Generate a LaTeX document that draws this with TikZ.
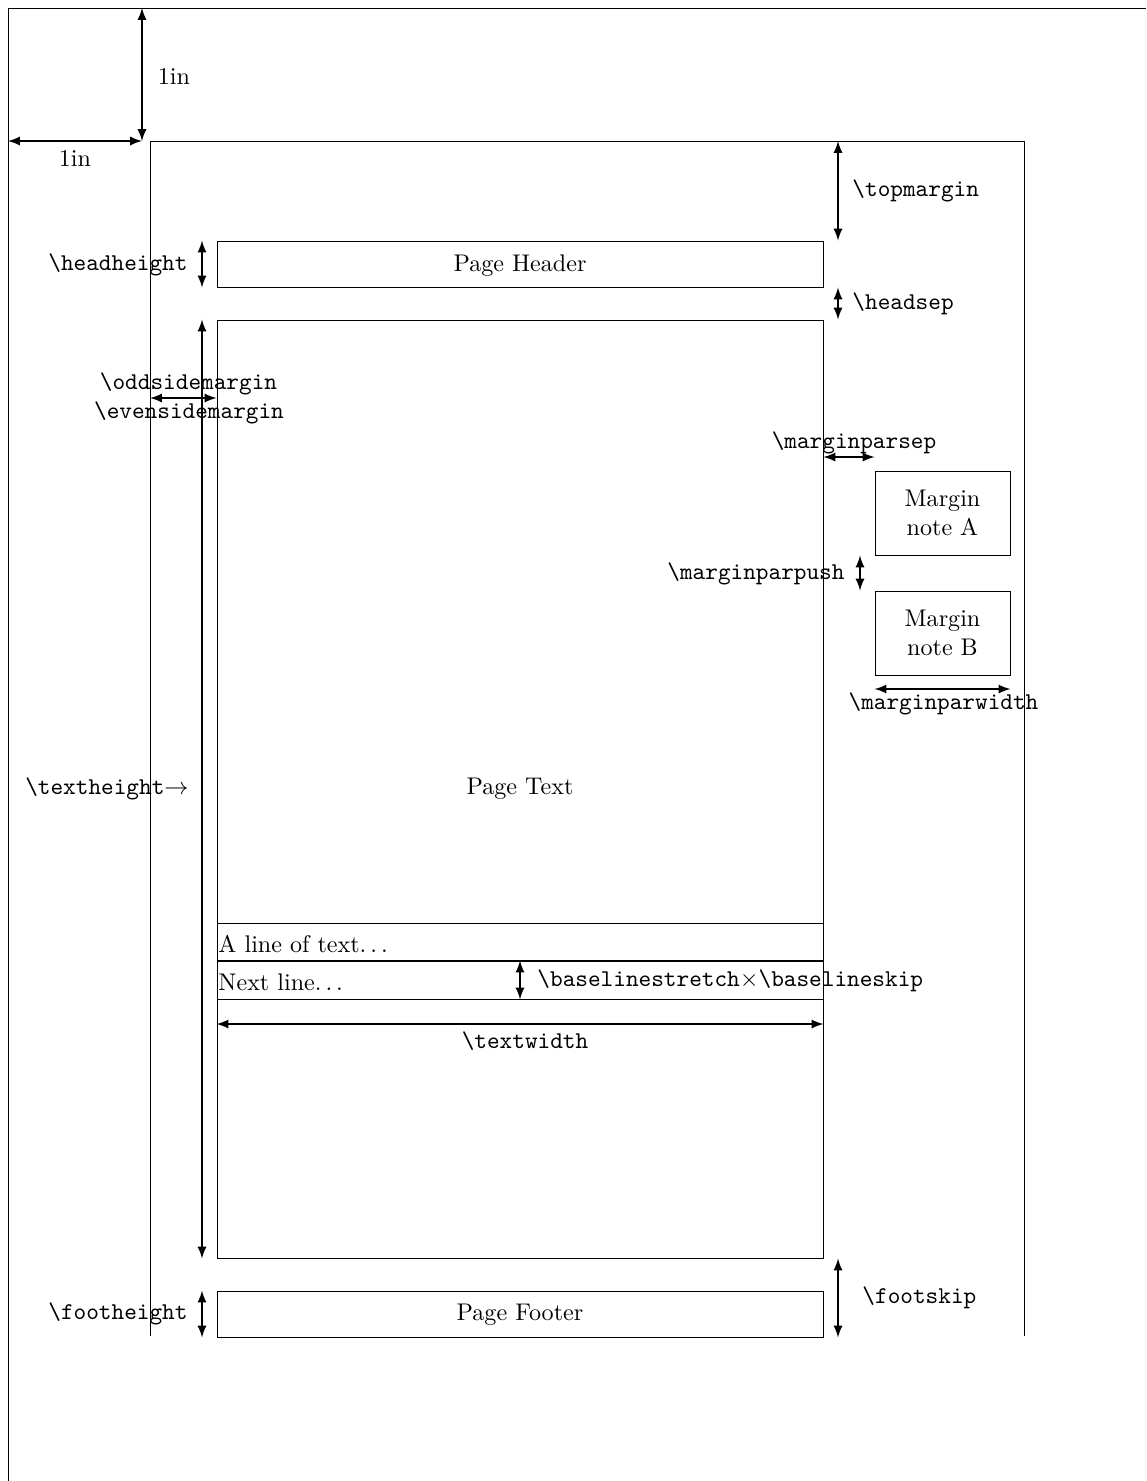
\documentclass[tikz,border=0pt]{standalone}
\usetikzlibrary{arrows}
\begin{document}
\begin{tikzpicture}[x=0.415pt,y=-0.415pt,>=latex,
  dim/.style={<->,line width=0.7pt},
  box/.style={draw,inner sep=0pt,minimum width=251.49pt},
  lab/.style={font=\ttfamily,inner sep=0pt},
  note/.style={draw,inner sep=0pt,minimum width=56.0pt,minimum height=34.86pt,align=center}]
\useasboundingbox (0,0) rectangle (1146,1481);
% outer page
\coordinate (pageTL) at (8,8);
\coordinate (pageBL) at (8,1481);
\coordinate (pageTR) at (1146,8);
\draw (pageBL) -- (pageTL) -- (pageTR);
% inner frame
\coordinate (frameTL) at (150,141);
\coordinate (frameTR) at (1024,141);
\coordinate (frameBL) at (150,1336);
\coordinate (frameBR) at (1024,1336);
\draw (frameBL) -- (frameTL) -- (frameTR) -- (frameBR);
% 1in arrows
\coordinate (oneinTop) at (142,8);
\coordinate (oneinCorner) at (142,141);
\coordinate (oneinLeft) at (8,141);
\draw[dim] (oneinTop) -- (oneinCorner);
\draw[dim] (oneinLeft) -- (oneinCorner);
\node (oneinV) at (174,76) {1in};
\node (oneinH) at (75,158) {1in};
% boxes
\node[box,minimum height=19.09pt] (header) at (520,264) {};
\node (headert) at (520,266) {Page Header};
\node[box,minimum height=389.27pt] (textbox) at (520,789) {};
\node (pagetext) at (520,789) {Page Text};
\node[box,minimum height=15.77pt] (line1) at (520,942) {};
\node[box,minimum height=15.77pt] (line2) at (520,980) {};
\draw[line width=0.8pt] (line2.north west) -- (line2.north east);
\node[inner sep=0pt,anchor=west] (line1t) at (218,944) {A line of text$\ldots$};
\node[inner sep=0pt,anchor=west] (line2t) at (218,982) {Next line$\ldots$};
\node[box,minimum height=19.09pt] (footer) at (520,1314) {};
\node (footert) at (520,1315) {Page Footer};
\node[note] (noteA) at (942.5,513) {Margin\\note A};
\node[note] (noteB) at (942.5,633) {Margin\\note B};
% helper columns/rows
\coordinate (rcol) at (838,0);
\coordinate (lcol) at (202,0);
\coordinate (osrow) at (0,398);
\coordinate (mpsrow) at (0,457);
\coordinate (mppcol) at (860,0);
\coordinate (mpwrow) at (0,689);
\coordinate (twrow) at (0,1024);
% dimension arrows
\draw[dim] (frameTL -| rcol) -- (header.north -| rcol);
\node[lab,anchor=west] (topmargin) at (852,191) {\textbackslash topmargin};
\draw[dim] (header.south -| rcol) -- (textbox.north -| rcol);
\node[lab,anchor=west] (headsep) at (852,304) {\textbackslash headsep};
\draw[dim] (header.north -| lcol) -- (header.south -| lcol);
\node[lab,anchor=east] (headheight) at (188,265) {\textbackslash headheight};
\draw[dim] (textbox.north -| lcol) -- (textbox.south -| lcol);
\node[lab,anchor=east] (textheight) at (189,789) {\textbackslash textheight$\rightarrow$};
\draw[dim] (frameTL |- osrow) -- (textbox.west |- osrow);
\node[lab] (oddside) at (188.5,384) {\textbackslash oddsidemargin};
\node[lab] (evenside) at (189,413) {\textbackslash evensidemargin};
\draw[dim] (textbox.east |- mpsrow) -- (noteA.west |- mpsrow);
\node[lab] (mpsep) at (854,443) {\textbackslash marginparsep};
\draw[dim] (noteA.south -| mppcol) -- (noteB.north -| mppcol);
\node[lab,anchor=east] (mppush) at (845,574) {\textbackslash marginparpush};
\draw[dim] (noteB.west |- mpwrow) -- (noteB.east |- mpwrow);
\node[lab] (mpwidth) at (943.5,704) {\textbackslash marginparwidth};
\draw[dim] (line2.north) -- (line2.south);
\node[lab,anchor=west] (blskip) at (537,981) {\textbackslash baselinestretch$\times$\textbackslash baselineskip};
\draw[dim] (textbox.west |- twrow) -- (textbox.east |- twrow);
\node[lab] (textwidth) at (525,1041) {\textbackslash textwidth};
\draw[dim] (footer.north -| lcol) -- (footer.south -| lcol);
\node[lab,anchor=east] (footheight) at (188,1314) {\textbackslash footheight};
\draw[dim] (textbox.south -| rcol) -- (footer.south -| rcol);
\node[lab,anchor=west] (footskip) at (862,1298) {\textbackslash footskip};
\end{tikzpicture}
\end{document}
